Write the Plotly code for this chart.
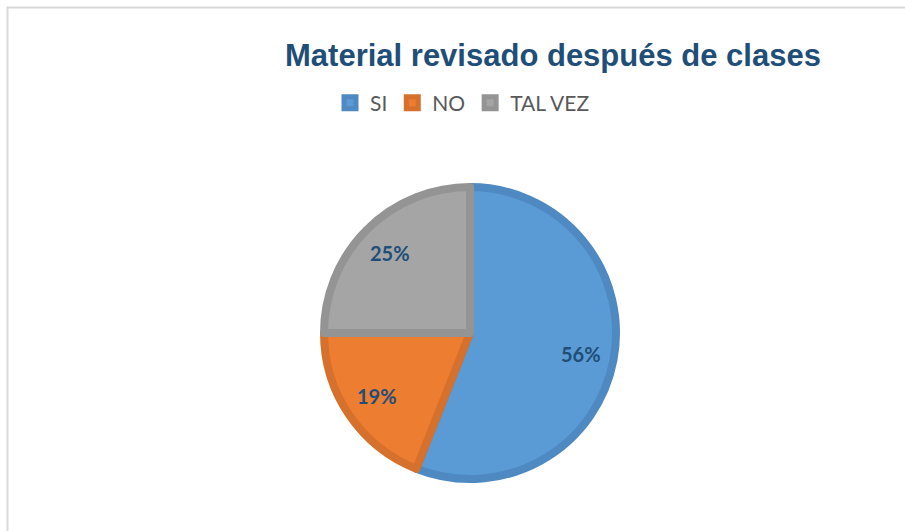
import math
import plotly.graph_objects as go

W, H = 905, 531

labels = ["SI", "NO", "TAL VEZ"]
values = [56, 19, 25]
fill_colors = ["#5B9BD5", "#ED7D31", "#A5A5A5"]
line_colors = ["#4E89C1", "#D5712D", "#949494"]

title_text = "Material revisado después de clases"

# pie centre ~ (470, 333) px, radius ~150 px
cx, cy, r = 470, 333, 146

fig = go.Figure(data=[
    go.Pie(
        labels=labels,
        values=values,
        sort=False,
        direction="clockwise",
        rotation=0,
        marker=dict(colors=fill_colors, line=dict(color=line_colors, width=8)),
        textinfo="none",
        hoverinfo="label+percent",
        domain=dict(x=[(cx - r) / W, (cx + r) / W],
                    y=[(H - cy - r) / H, (H - cy + r) / H]),
    )
])

# data labels placed like Excel's "best fit": at 3/4 of the radius, mid-slice
total = sum(values)
cum = 0
annotations = []
for v in values:
    mid = (cum + v / 2) / total * 2 * math.pi
    cum += v
    lx = cx + 0.75 * 150 * math.sin(mid)
    ly = cy - 0.75 * 150 * math.cos(mid)
    annotations.append(dict(
        x=lx / W, y=1 - ly / H, xref="paper", yref="paper",
        text="<b>%d%%</b>" % round(v / total * 100), showarrow=False,
        font=dict(family="Lato", size=20, color="#1F4E79"),
        xanchor="center", yanchor="middle",
    ))

fig.update_layout(
    width=W, height=H,
    margin=dict(l=0, r=0, t=0, b=0),
    paper_bgcolor="white",
    plot_bgcolor="white",
    title=dict(
        text="<b>" + title_text + "</b>",
        x=553 / W, xanchor="center",
        y=1 - 55 / H, yanchor="middle",
        font=dict(family="Liberation Sans", size=31, color="#1F4E79"),
    ),
    showlegend=True,
    legend=dict(
        orientation="h",
        x=330 / W, xanchor="left",
        y=1 - 103 / H, yanchor="middle",
        font=dict(family="Lato", size=21, color="#595959"),
        itemwidth=30,
        traceorder="normal",
    ),
    annotations=annotations,
    shapes=[
        dict(type="rect", xref="paper", yref="paper",
             x0=7.5 / W, x1=1.05, y0=-0.05, y1=1 - 7.5 / H,
             line=dict(color="#D9D9D9", width=2), fillcolor="rgba(0,0,0,0)",
             layer="below"),
    ],
)

fig.write_html("out.html", config={"displayModeBar": False},
               post_script="document.body.style.margin='0';")
